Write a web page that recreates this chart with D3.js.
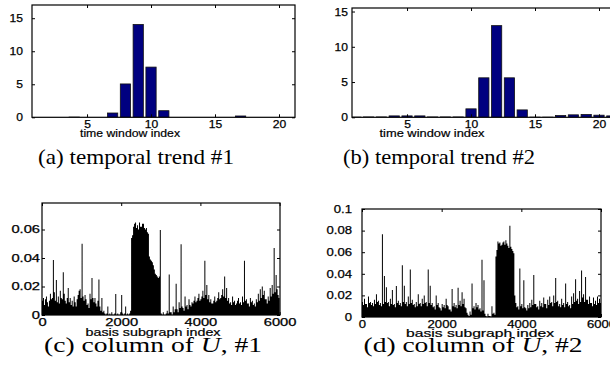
<!DOCTYPE html>
<html>
<head>
<meta charset="utf-8">
<script src="https://cdn.jsdelivr.net/npm/d3@7/dist/d3.min.js"></script>
<style>
  body { margin: 0; background: #fff; }
  svg { display: block; }
</style>
</head>
<body>
<svg id="chart" width="610" height="371"></svg>
<script>
// ---- data ----
const trendIndex = d3.range(1, 22);
const trend1 = [0, 0, 0, 0.03, 0, 0, 0.65, 5.05, 14.05, 7.6, 1.0, 0, 0, 0, 0, 0, 0.2, 0, 0, 0, 0];
const trend2 = [0.03, 0.05, 0.05, 0.2, 0.2, 0.2, 0.05, 0.05, 0.05, 1.2, 5.6, 13.0, 5.6, 1.05, 0.02, 0.02, 0.25, 0.35, 0.4, 0.3, 0.2];
const trendXTicks = [5, 10, 15, 20];
const trendYTicks = [0, 5, 10, 15];

// columns of U, one value per bin of 25 basis subgraphs (about one pixel each)
const columnStep = 25;
const column1 = [
  0.010, 0.012, 0.007, 0.011, 0.013, 0.009, 0.006, 0.010, 0.015, 0.011,
  0.012, 0.0386, 0.016, 0.010, 0.0245, 0.009, 0.013, 0.008, 0.017, 0.012,
  0.011, 0.030, 0.015, 0.010, 0.008, 0.012, 0.019, 0.009, 0.012, 0.007,
  0.010, 0.006, 0.013, 0.009, 0.006, 0.011, 0.014, 0.017, 0.018, 0.012,
  0.050, 0.013, 0.010, 0.014, 0.011, 0.007, 0.008, 0.005, 0.015, 0.011,
  0.026, 0.012, 0.009, 0.012, 0.008, 0.006, 0.010, 0.025, 0.006, 0.003,
  0.012, 0.002, 0.003, 0.001, 0, 0.001, 0.006, 0, 0.001, 0,
  0.002, 0, 0, 0.001, 0.0147, 0, 0.001, 0, 0, 0.002,
  0.014, 0.001, 0, 0.001, 0.006, 0, 0.001, 0, 0.001, 0.003,
  0.054, 0.056, 0.062, 0.064, 0.065, 0.061, 0.063, 0.060, 0.065, 0.062,
  0.062, 0.064, 0.064, 0.061, 0.060, 0.061, 0.058, 0.057, 0.041, 0.039,
  0.038, 0.037, 0.035, 0.032, 0.029, 0.028, 0.027, 0.026, 0.027, 0.0597,
  0.001, 0, 0.002, 0, 0, 0.001, 0.003, 0.001, 0.0285, 0.002,
  0.002, 0, 0.006, 0.002, 0.004, 0.022, 0.004, 0.002, 0.009, 0.005,
  0.0496, 0.006, 0.005, 0.003, 0.013, 0.006, 0.007, 0.004, 0.011, 0.007,
  0.006, 0.009, 0.008, 0.010, 0.013, 0.009, 0.010, 0.012, 0.015, 0.010,
  0.011, 0.013, 0.017, 0.012, 0.038, 0.014, 0.021, 0.011, 0.014, 0.009,
  0.011, 0.008, 0.008, 0.010, 0.013, 0.009, 0.010, 0.012, 0.016, 0.011,
  0.012, 0.014, 0.018, 0.013, 0.027, 0.012, 0.019, 0.010, 0.012, 0.008,
  0.009, 0.007, 0.013, 0.009, 0.010, 0.007, 0.008, 0.010, 0.012, 0.008,
  0.009, 0.007, 0.013, 0.009, 0.038, 0.010, 0.011, 0.008, 0.008, 0.006,
  0.012, 0.009, 0.010, 0.007, 0.008, 0.006, 0.011, 0.009, 0.015, 0.010,
  0.018, 0.012, 0.020, 0.014, 0.017, 0.011, 0.011, 0.008, 0.013, 0.010,
  0.019, 0.013, 0.021, 0.015, 0.047, 0.016, 0.028, 0.018, 0.014, 0.012
];
const column2 = [
  0.014, 0.011, 0.017, 0.012, 0.012, 0.009, 0.019, 0.013, 0.014, 0.011,
  0.013, 0.010, 0.016, 0.012, 0.021, 0.014, 0.015, 0.011, 0.013, 0.010,
  0.0766, 0.012, 0.038, 0.014, 0.0275, 0.013, 0.014, 0.010, 0.017, 0.012,
  0.025, 0.011, 0.012, 0.009, 0.0287, 0.013, 0.015, 0.011, 0.013, 0.010,
  0.048, 0.014, 0.029, 0.012, 0.014, 0.010, 0.019, 0.012, 0.044, 0.013,
  0.016, 0.011, 0.012, 0.009, 0.014, 0.010, 0.021, 0.012, 0.013, 0.010,
  0.017, 0.012, 0.020, 0.013, 0.014, 0.010, 0.044, 0.013, 0.029, 0.011,
  0.013, 0.009, 0.010, 0.007, 0.020, 0.011, 0.013, 0.009, 0.008, 0.006,
  0.012, 0.009, 0.011, 0.008, 0.017, 0.011, 0.010, 0.007, 0.007, 0.005,
  0.026, 0.010, 0.013, 0.009, 0.011, 0.008, 0.027, 0.011, 0.015, 0.010,
  0.023, 0.012, 0.017, 0.009, 0.008, 0.004, 0.002, 0.001, 0.005, 0.002,
  0.031, 0.008, 0.010, 0.007, 0.013, 0.009, 0.011, 0.007, 0.008, 0.005,
  0.053, 0.006, 0.034, 0.003, 0.001, 0, 0.003, 0.001, 0.001, 0,
  0.010, 0.003, 0.004, 0.002, 0.056, 0.062, 0.070, 0.068, 0.069, 0.066,
  0.067, 0.069, 0.070, 0.067, 0.071, 0.068, 0.066, 0.064, 0.0845, 0.065,
  0.063, 0.061, 0.059, 0.020, 0.013, 0.009, 0.010, 0.007, 0.045, 0.010,
  0.012, 0.008, 0.034, 0.009, 0.008, 0.006, 0.011, 0.008, 0.013, 0.009,
  0.016, 0.011, 0.039, 0.012, 0.012, 0.009, 0.010, 0.007, 0.015, 0.010,
  0.013, 0.009, 0.018, 0.012, 0.012, 0.008, 0.016, 0.011, 0.019, 0.013,
  0.014, 0.010, 0.020, 0.013, 0.036, 0.014, 0.015, 0.010, 0.012, 0.009,
  0.017, 0.011, 0.013, 0.009, 0.031, 0.012, 0.014, 0.010, 0.011, 0.008,
  0.019, 0.012, 0.022, 0.014, 0.035, 0.015, 0.017, 0.012, 0.024, 0.014,
  0.043, 0.018, 0.021, 0.014, 0.037, 0.016, 0.016, 0.012, 0.019, 0.013,
  0.013, 0.010, 0.018, 0.012, 0.015, 0.011, 0.019, 0.013, 0.017, 0.013
];
const columnXTicks = [0, 2000, 4000, 6000];
const column1YTicks = [0, 0.02, 0.04, 0.06];
const column2YTicks = [0, 0.02, 0.04, 0.06, 0.08, 0.1];

const trendLabel = 'time window index';
const columnLabel = 'basis subgraph index';

// ---- layout ----
const svg = d3.select('#chart');
const sansFont = '"Liberation Sans", Arial, Helvetica, sans-serif';
const serifFont = '"Liberation Serif", "Times New Roman", serif';

const panels = [
  { kind: 'trend', values: trend1, x0: 32, x1: 295, y0: 117.3, y1: 5, xDomain: [0.7, 21.25], yMax: 17,
    yTicks: trendYTicks, yPad: 9, fs: 11, sx: 1.1, xTickPad: 3,
    label: trendLabel, labelX: 130, labelY: 136.5, labelW: 100,
    caption: ['(a) temporal trend #1'], capX: 136, capY: 164, capW: 196 },
  { kind: 'trend', values: trend2, x0: 352, x1: 615, y0: 117.3, y1: 8, xDomain: [0.7, 21.25], yMax: 15.5,
    yTicks: trendYTicks, yPad: 4, fs: 11, sx: 1.1, xTickPad: 3,
    label: trendLabel, labelX: 432, labelY: 136.5, labelW: 105,
    caption: ['(b) temporal trend #2'], capX: 439, capY: 164, capW: 192 },
  { kind: 'column', values: column1, x0: 42, x1: 280, y0: 315, y1: 203, xDomain: [0, 6010], yMax: 0.0786,
    yTicks: column1YTicks, yPad: 2, fs: 10.5, sx: 1.4, xTickPad: 4,
    label: columnLabel, labelX: 153, labelY: 335.5, labelW: 135,
    caption: ['(c) column of ', 'U', ', #1'], capX: 153, capY: 352, capW: 218 },
  { kind: 'column', values: column2, x0: 362, x1: 601, y0: 317, y1: 209, xDomain: [0, 6000], yMax: 0.1,
    yTicks: column2YTicks, yPad: 10, fs: 10.5, sx: 1.25, xTickPad: 4,
    label: columnLabel, labelX: 480, labelY: 336.5, labelW: 148,
    caption: ['(d) column of ', 'U', ', #2'], capX: 473, capY: 352, capW: 219 }
];

function stretchText(sel, sx) {
  sel.each(function () {
    const w = this.getComputedTextLength();
    d3.select(this).attr('textLength', w * sx).attr('lengthAdjust', 'spacingAndGlyphs');
  });
}

panels.forEach((p, k) => {
  const x = d3.scaleLinear().domain(p.xDomain).range([p.x0, p.x1]);
  const y = d3.scaleLinear().domain([0, p.yMax]).range([p.y0, p.y1]);
  const g = svg.append('g');
  const clipId = 'clip' + k;
  svg.append('clipPath').attr('id', clipId)
    .append('rect').attr('x', p.x0).attr('y', p.y1).attr('width', p.x1 - p.x0).attr('height', p.y0 - p.y1);

  const plot = g.append('g').attr('clip-path', `url(#${clipId})`);
  if (p.kind === 'trend') {
    plot.selectAll('rect').data(p.values).join('rect')
      .attr('x', (d, i) => x(trendIndex[i] - 0.4))
      .attr('width', (d, i) => x(trendIndex[i] + 0.4) - x(trendIndex[i] - 0.4))
      .attr('y', d => y(d))
      .attr('height', d => y(0) - y(d))
      .attr('fill', '#000080')
      .attr('stroke', '#111')
      .attr('stroke-width', 0.8);
  } else {
    const pts = p.values.map((v, i) => [i * columnStep, v]);
    pts.push([p.values.length * columnStep, p.values[p.values.length - 1]]);
    const area = d3.area()
      .x(d => x(d[0]))
      .y0(y(0))
      .y1(d => y(d[1]))
      .curve(d3.curveStepAfter);
    plot.append('path').datum(pts).attr('d', area).attr('fill', '#000');
  }

  const xTicks = p.kind === 'trend' ? trendXTicks : columnXTicks;
  const tickLen = 3;

  // bottom axis with labels, ticks pointing inwards
  const bottom = g.append('g').attr('transform', `translate(0,${p.y0})`)
    .call(d3.axisBottom(x).tickValues(xTicks).tickSize(-tickLen).tickSizeOuter(0).tickPadding(p.xTickPad)
      .tickFormat(d3.format('d')));
  // left axis with labels
  const left = g.append('g').attr('transform', `translate(${p.x0},0)`)
    .call(d3.axisLeft(y).tickValues(p.yTicks).tickSize(-tickLen).tickSizeOuter(0).tickPadding(p.yPad)
      .tickFormat(d => d === 0 ? '0' : d3.format('~g')(d)));
  // mirrored ticks on top / right
  g.append('g').attr('transform', `translate(0,${p.y1})`)
    .call(d3.axisTop(x).tickValues(xTicks).tickSize(-tickLen).tickSizeOuter(0).tickFormat(''));
  g.append('g').attr('transform', `translate(${p.x1},0)`)
    .call(d3.axisRight(y).tickValues(p.yTicks).tickSize(-tickLen).tickSizeOuter(0).tickFormat(''));

  g.selectAll('.domain').remove();
  g.selectAll('.tick line').attr('stroke', '#000').attr('stroke-width', 1);
  g.selectAll('.tick text').attr('font-family', sansFont).attr('font-size', p.fs).attr('fill', '#000')
    .attr('stroke', '#000').attr('stroke-width', 0.25);
  stretchText(bottom.selectAll('.tick text'), p.sx);
  stretchText(left.selectAll('.tick text'), p.sx);

  g.append('rect')
    .attr('x', p.x0).attr('y', p.y1)
    .attr('width', p.x1 - p.x0).attr('height', p.y0 - p.y1)
    .attr('fill', 'none').attr('stroke', '#000').attr('stroke-width', 1.2);

  // axis label
  g.append('text')
    .attr('x', p.labelX).attr('y', p.labelY)
    .attr('text-anchor', 'middle')
    .attr('font-family', sansFont).attr('font-size', p.fs)
    .attr('stroke', '#000').attr('stroke-width', 0.2)
    .attr('textLength', p.labelW).attr('lengthAdjust', 'spacingAndGlyphs')
    .text(p.label);

  // sub-figure caption
  const cap = svg.append('text')
    .attr('x', p.capX).attr('y', p.capY)
    .attr('text-anchor', 'middle')
    .attr('font-family', serifFont).attr('font-size', 21)
    .attr('textLength', p.capW).attr('lengthAdjust', 'spacingAndGlyphs');
  p.caption.forEach((s, j) => {
    cap.append('tspan').attr('font-style', j === 1 ? 'italic' : null).text(s);
  });
});
</script>
</body>
</html>
